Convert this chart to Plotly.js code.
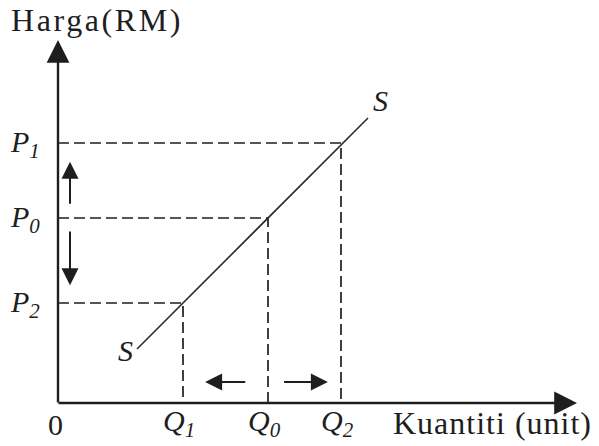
<!DOCTYPE html>
<html><head><meta charset="utf-8">
<script src="https://cdn.plot.ly/plotly-3.0.1.min.js"></script>
<style>html,body{margin:0;padding:0;background:#fff}#chart{width:599px;height:446px}</style>
</head><body><div id="chart"></div>
<script>
// Quantity and price levels (pairs: Q1-P2, Q0-P0, Q2-P1)
const quantityLabels = ['<i>Q</i><sub><i>1</i></sub>', '<i>Q</i><sub><i>0</i></sub>', '<i>Q</i><sub><i>2</i></sub>'];
const quantities = [125, 210, 283];
const priceLabels = ['<i>P</i><sub><i>2</i></sub>', '<i>P</i><sub><i>0</i></sub>', '<i>P</i><sub><i>1</i></sub>'];
const prices = [100, 185, 260];
// Supply curve S end points
const supplyQ = [79, 310];
const supplyP = [54, 285];
const yAxisTitle = 'Harga(RM)';
const xAxisTitle = 'Kuantiti (unit)';
const curveLabel = '<i>S</i>';
const originLabel = '0';

const ink = '#1e1e1e';
function mkFont(size) { return {family: 'Liberation Serif, Times New Roman, serif', size: size, color: ink}; }

// dashed guides
const gx = [], gy = [];
quantities.forEach((q, i) => {
  const p = prices[i];
  gx.push(0, q, q, null);
  gy.push(p, p, 0, null);
});

const traces = [
  {x: gx, y: gy, mode: 'lines', line: {color: ink, width: 1.7, dash: '11px,5px'}, hoverinfo: 'skip'},
  {x: supplyQ, y: supplyP, mode: 'lines', line: {color: '#2a2a2a', width: 1.6}, hoverinfo: 'skip'}
];

const [Q1, Q0, Q2] = quantities;
const [P2, P0, P1] = prices;
const xMax = 519, yMax = 363;
const arrowX = 12, arrowY = 21;

const ann = [];
function arrow(tx, ty, fx, fy, w, size) {
  ann.push({x: tx, y: ty, ax: fx, ay: fy, xref: 'x', yref: 'y', axref: 'x', ayref: 'y',
    text: '', showarrow: true, arrowhead: 2, arrowsize: size, arrowwidth: w, arrowcolor: ink, standoff: 0, startstandoff: 0});
}
// axes
arrow(0, yMax, 0, -1, 2.4, 1.9);
arrow(xMax, 0, -1, 0, 2.4, 1.9);
// movement arrows (price rises / falls, quantity falls / rises)
arrow(arrowX, P0 + 0.75 * (P1 - P0), arrowX, P0 + 0.17 * (P1 - P0), 2, 1.7);
arrow(arrowX, P0 - 0.79 * (P0 - P2), arrowX, P0 - 0.14 * (P0 - P2), 2, 1.7);
arrow(Q0 - 0.74 * (Q0 - Q1), arrowY, Q0 - 0.25 * (Q0 - Q1), arrowY, 2, 1.7);
arrow(Q0 + 0.82 * (Q2 - Q0), arrowY, Q0 + 0.2 * (Q2 - Q0), arrowY, 2, 1.7);

function label(text, x, y, xanchor, size) {
  ann.push({x: x, y: y, xref: 'x', yref: 'y', text: text, showarrow: false, font: mkFont(size || 30),
    xanchor: xanchor || 'center', yanchor: 'middle'});
}
priceLabels.forEach((t, i) => label(t, -33, prices[i] - 1));
quantityLabels.forEach((t, i) => label(t, quantities[i] - 4, -20));
label(originLabel, -3, -21);
label(yAxisTitle, -49, 383, 'left', 32);
label(xAxisTitle, 333, -20, 'left', 32);
label(curveLabel, supplyQ[0] - 12, supplyP[0] - 1);
label(curveLabel, supplyQ[1] + 12, supplyP[1] + 18);

const layout = {
  width: 599, height: 446,
  margin: {l: 0, r: 0, t: 0, b: 0},
  paper_bgcolor: '#fff', plot_bgcolor: '#fff',
  showlegend: false,
  xaxis: {range: [-58, 541], visible: false, fixedrange: true},
  yaxis: {range: [-43, 403], visible: false, fixedrange: true},
  annotations: ann
};
Plotly.newPlot('chart', traces, layout, {staticPlot: true}).then(() => {
  document.querySelectorAll('.annotation-text').forEach(el => {
    if (el.textContent === yAxisTitle) { el.style.letterSpacing = '2.6px'; el.setAttribute('text-anchor', 'start'); el.setAttribute('x', '2'); }
    if (el.textContent === xAxisTitle) { el.style.letterSpacing = '1px'; el.setAttribute('text-anchor', 'start'); el.setAttribute('x', '2'); }
  });
});
</script>
</body></html>
